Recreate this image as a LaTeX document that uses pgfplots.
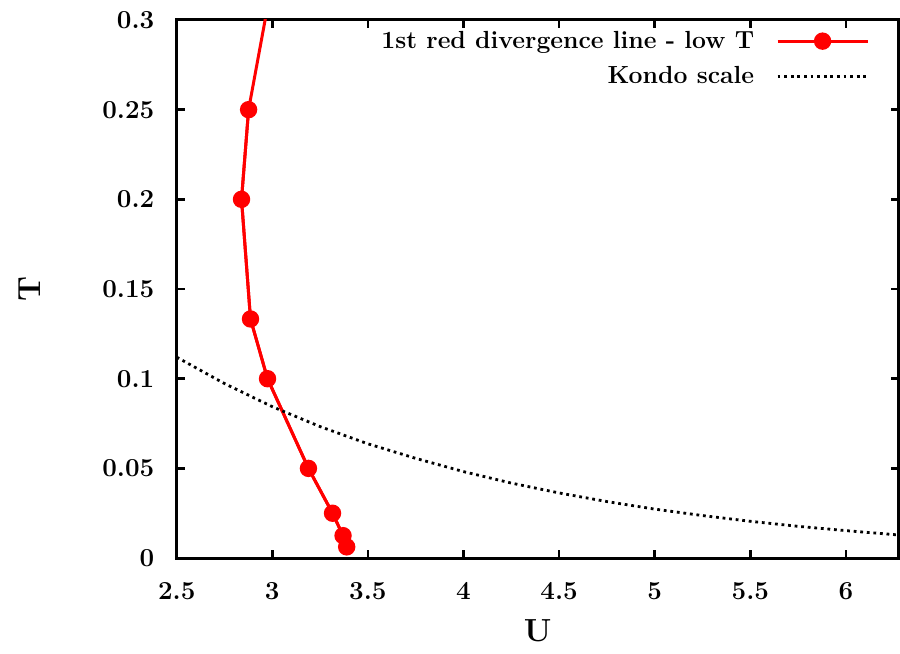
\documentclass[border=0pt]{standalone}
\usepackage{pgfplots}
\pgfplotsset{compat=1.18}
\begin{document}
\begin{tikzpicture}
\begin{axis}[
  scale only axis,
  width=361.5pt, height=269.5pt,
  xmin=2.5, xmax=6.275, ymin=0, ymax=0.3,
  axis line style={line width=1.5pt},
  tick style={line width=1.3pt, black},
  major tick length=4pt,
  tick align=inside,
  xtick={2.5,3,3.5,4,4.5,5,5.5,6},
  xticklabels={2.5,3,3.5,4,4.5,5,5.5,6},
  ytick={0,0.05,0.1,0.15,0.2,0.25,0.3},
  yticklabels={0,0.05,0.1,0.15,0.2,0.25,0.3},
  font=\fontsize{13}{15}\selectfont\bfseries,
  /pgf/number format/assume math mode=true,
  xticklabel style={anchor=center, inner sep=0pt, yshift=-16.5pt},
  yticklabel style={anchor=east, inner sep=0pt, xshift=-11pt},
  xlabel={U}, ylabel={T},
  xlabel style={at={(axis description cs:0.5,0)}, anchor=center, yshift=-36.5pt, font=\fontsize{16}{18}\selectfont\bfseries},
  ylabel style={at={(axis description cs:-0.2033,0.5)}, anchor=center, font=\fontsize{16}{18}\selectfont\bfseries},
  legend style={at={(axis description cs:0.968,0.995)}, anchor=north east, draw=none, fill=none, row sep=3.5pt, column sep=9pt, font=\fontsize{12.4}{14}\selectfont\bfseries},
  legend cell align=right,
  legend plot pos=right,
  legend image code/.code={\draw[mark repeat=2,mark phase=2] plot coordinates {(0pt,0pt)(22.5pt,0pt)(45pt,0pt)};},
]
\addplot[red, line width=1.5pt, forget plot] coordinates {
  (3.02,0.3333) (2.876,0.25) (2.839,0.2) (2.886,0.1333) (2.975,0.1)
  (3.189,0.05) (3.315,0.025) (3.370,0.0125) (3.389,0.00625)
};
\addplot[red, line width=1.5pt, mark=*, mark size=3.6pt, mark options={solid, fill=red}] coordinates {
  (2.876,0.25) (2.839,0.2) (2.886,0.1333) (2.975,0.1)
  (3.189,0.05) (3.315,0.025) (3.370,0.0125) (3.389,0.00625)
};
\addlegendentry{1st red divergence line - low T}
\addplot[black, line width=1.4pt, dash pattern=on 1.4pt off 1.9pt] coordinates {
  (2.5,0.1120) (2.75,0.0973) (3.0,0.0844) (3.25,0.0733) (3.5,0.0637)
  (3.75,0.0556) (4.0,0.0482) (4.25,0.0418) (4.5,0.0363) (4.75,0.0315)
  (5.0,0.0273) (5.25,0.0237) (5.5,0.0205) (5.75,0.0177) (6.0,0.0153)
  (6.25,0.0131) (6.3,0.0127)
};
\addlegendentry{Kondo scale}
\end{axis}
\useasboundingbox (-88.5pt,-48pt) rectangle (361.5pt,279.5pt);
\end{tikzpicture}
\end{document}
